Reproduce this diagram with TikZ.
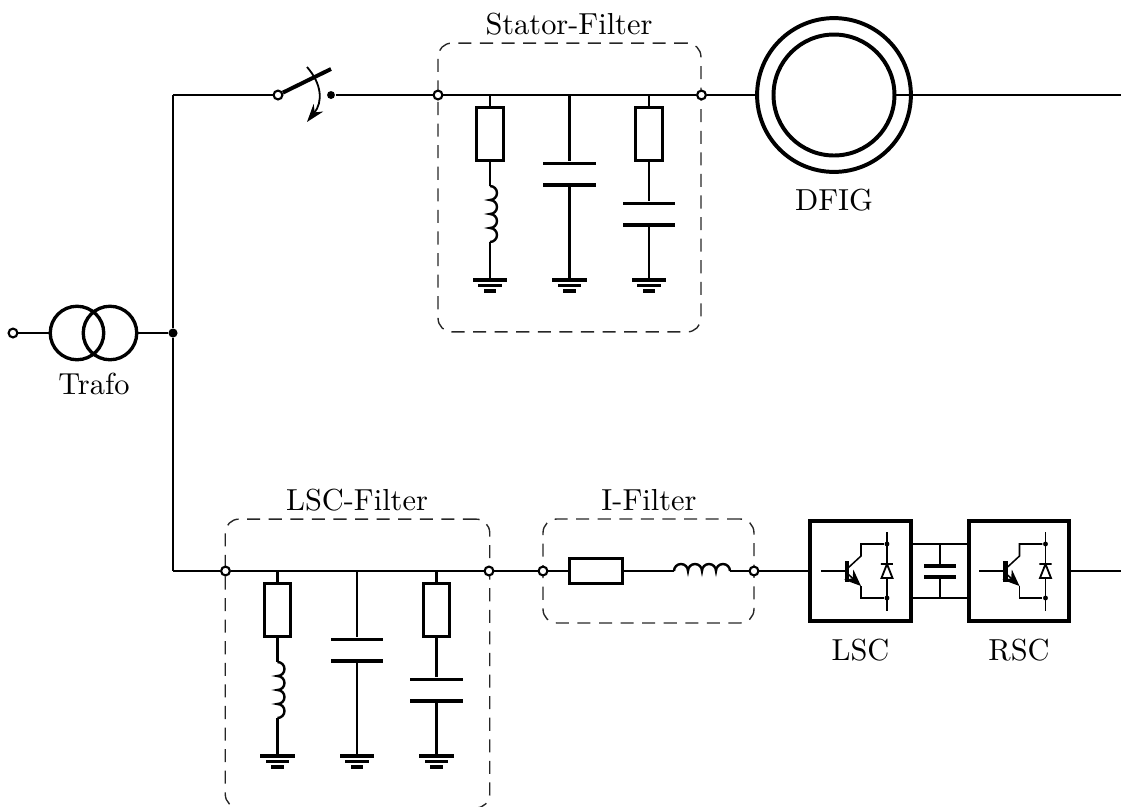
\documentclass[tikz,border=0pt]{standalone}
\usetikzlibrary{arrows.meta}

\tikzset{
	wire/.style={line width=0.8pt},
	thinwire/.style={line width=0.5pt},
	term/.style={circle,draw,fill=white,line width=0.7pt,inner sep=0pt,minimum size=2.9pt},
	dot/.style={circle,fill=black,inner sep=0pt,minimum size=3pt},
	smalldot/.style={circle,fill=black,inner sep=0pt,minimum size=1.6pt},
	resv/.style={rectangle,draw,line width=1pt,inner sep=0pt,minimum width=8.6pt,minimum height=17.4pt},
	resh/.style={rectangle,draw,line width=1pt,inner sep=0pt,minimum width=17.4pt,minimum height=8.2pt},
	plate/.style={rectangle,fill=black,inner sep=0pt,minimum width=17.2pt,minimum height=1pt},
	gnda/.style={rectangle,fill=black,inner sep=0pt,minimum width=11.2pt,minimum height=1pt},
	gndb/.style={rectangle,fill=black,inner sep=0pt,minimum width=7.8pt,minimum height=1pt},
	gndc/.style={rectangle,fill=black,inner sep=0pt,minimum width=4pt,minimum height=1pt},
	trafo/.style={circle,draw,line width=1.1pt,inner sep=0pt,minimum size=17.6pt},
	conv/.style={rectangle,draw,line width=1.4pt,inner sep=0pt,minimum size=33pt},
	filterbox/.style={rectangle,draw=black!85,dash pattern=on 4.3pt off 2.8pt,rounded corners=4.5pt,line width=0.45pt,inner sep=0pt},
}

\begin{document}
\begin{tikzpicture}[x=0.329pt,y=-0.329pt]
\useasboundingbox (0,0) rectangle (1121,807);

% boxes
\node (fs) at (569.5,187.5) [filterbox,minimum width=86.5pt,minimum height=95pt] {};
\node (fl) at (357.5,663.5) [filterbox,minimum width=87pt,minimum height=95pt] {};
\node (fi) at (648.5,571) [filterbox,minimum width=69.4pt,minimum height=34.2pt] {};

\node (lfs) at (569,24) {Stator-Filter};
\node (lfl) at (357,500) {LSC-Filter};
\node (lfi) at (649,500) {I-Filter};

% grid side
\node (t0) at (13,333) [term] {};
\node (tr1) at (77,333) [trafo] {};
\node (tr2) at (110,333) [trafo] {};
\node (ltr) at (94,384) {Trafo};
\node (j0) at (173,333) [dot] {};
\coordinate (c1) at (173,95);
\coordinate (c2) at (173,571);

\draw[wire] (t0) -- (tr1);
\draw[wire] (tr2) -- (j0);
\draw[wire] (j0) -- (c1);
\draw[wire] (j0) -- (c2);

% switch
\node (sw1) at (278,95) [term] {};
\node (sw2) at (331,95) [dot,minimum size=2.6pt] {};
\coordinate (sw3) at (331,69);
\coordinate (arc1) at (307,67);
\coordinate (arc2) at (307,122);
\draw[wire] (c1) -- (sw1);
\draw[line width=1.3pt] (sw1) -- (sw3);
\draw[line width=0.6pt,-{Stealth[length=6pt,width=4pt]}] (arc1) .. controls (322,84) and (323,102) .. (arc2);

% one filter with three branches, at two places
\foreach \f/\ox/\oy in {s/0/0,l/-212.5/476}
{
	\begin{scope}[shift={(\ox,\oy)}]
	\node (\f a) at (438,95) [term] {};
	\node (\f b) at (701.5,95) [term] {};
	\coordinate (\f t1) at (490,95);
	\coordinate (\f t2) at (569.5,95);
	\coordinate (\f t3) at (649,95);

	\node (\f r1) at (490,134) [resv] {};
	\coordinate (\f l1) at (490,186);
	\coordinate (\f l2) at (490,242);
	\node (\f ga1) at (490,280) [gnda] {};
	\node (\f gb1) at (490,285.5) [gndb] {};
	\node (\f gc1) at (490,291) [gndc] {};

	\node (\f pa2) at (569.5,163.5) [plate] {};
	\node (\f pb2) at (569.5,185) [plate] {};
	\node (\f ga2) at (569.5,280) [gnda] {};
	\node (\f gb2) at (569.5,285.5) [gndb] {};
	\node (\f gc2) at (569.5,291) [gndc] {};

	\node (\f r3) at (649,134) [resv] {};
	\node (\f pa3) at (649,203.5) [plate] {};
	\node (\f pb3) at (649,225) [plate] {};
	\node (\f ga3) at (649,280) [gnda] {};
	\node (\f gb3) at (649,285.5) [gndb] {};
	\node (\f gc3) at (649,291) [gndc] {};

	\draw[wire] (\f a) -- (\f b);
	\draw[wire] (\f t1) -- (\f r1);
	\draw[wire] (\f r1) -- (\f l1);
	\draw[wire] (\f l1) arc (-90:90:7) arc (-90:90:7) arc (-90:90:7) arc (-90:90:7);
	\draw[wire] (\f l2) -- (\f ga1);
	\draw[wire] (\f t2) -- (\f pa2);
	\draw[wire] (\f pb2) -- (\f ga2);
	\draw[wire] (\f t3) -- (\f r3);
	\draw[wire] (\f r3) -- (\f pa3);
	\draw[wire] (\f pb3) -- (\f ga3);
	\end{scope}
}

% I-Filter
\node (ia) at (543,571) [term] {};
\node (ib) at (754,571) [term] {};
\node (ir) at (596,571) [resh] {};
\coordinate (il1) at (674,571);
\coordinate (il2) at (730,571);
\draw[wire] (c2) -- (la);
\draw[wire] (lb) -- (ia);
\draw[wire] (ia) -- (ir);
\draw[wire] (ir) -- (il1);
\draw[wire] (il1) arc (180:360:7) arc (180:360:7) arc (180:360:7) arc (180:360:7);
\draw[wire] (il2) -- (ib);

% stator line and machine
\node (dfo) at (834,95) [circle,draw,line width=1.3pt,inner sep=0pt,minimum size=50.6pt] {};
\node (dfi) at (834,95) [circle,draw,line width=1.3pt,inner sep=0pt,minimum size=39.8pt] {};
\node (ldf) at (834,200) {DFIG};
\coordinate (e1) at (1121,95);
\draw[wire] (sw2) -- (sa);
\draw[wire] (sb) -- (dfo);
\draw[wire] (dfi) -- (e1);

% converters
\foreach \c/\ox/\txt in {lsc/0/LSC,rsc/158.5/RSC}
{
	\begin{scope}[shift={(\ox,0)}]
	\node (\c) at (860.5,571) [conv] {};
	\node (l\c) at (860.5,650) {\txt};
	\node (\c d1) at (887,544) [smalldot] {};
	\node (\c d2) at (887,598) [smalldot] {};
	\coordinate (\c v1) at (887,532);
	\coordinate (\c v2) at (887,611);
	\coordinate (\c b) at (821,571);
	\coordinate (\c q) at (847,571);
	\coordinate (\c g1) at (847,561);
	\coordinate (\c g2) at (847,582);
	\coordinate (\c k1) at (848,568);
	\coordinate (\c k2) at (861,556);
	\coordinate (\c k3) at (861,544);
	\coordinate (\c m1) at (848,574);
	\coordinate (\c m2) at (861,586);
	\coordinate (\c m3) at (861,598);
	\coordinate (\c da) at (887,564);
	\coordinate (\c db) at (887,578);

	\draw[thinwire] (\c v1) -- (\c da);
	\draw[thinwire] (\c db) -- (\c v2);
	\draw[thinwire] (\c b) -- (\c q);
	\draw[line width=1.4pt] (\c g1) -- (\c g2);
	\draw[thinwire] (\c k1) -- (\c k2) -- (\c k3) -- (\c d1);
	\draw[thinwire] (\c m2) -- (\c m3) -- (\c d2);
	\draw[thinwire,-{Stealth[length=5.5pt,width=4.5pt]}] (\c m1) -- (\c m2);
	\draw[line width=0.6pt] (881,564) -- (893,564) (887,564) -- (881.5,578) -- (892.5,578) -- cycle;
	\end{scope}
}

% dc link
\coordinate (dc1) at (940,544);
\coordinate (dc2) at (940,598);
\node (cpa) at (940,566) [plate,minimum width=10.4pt,minimum height=1.1pt] {};
\node (cpb) at (940,577) [plate,minimum width=10.4pt,minimum height=1.1pt] {};
\draw[wire] (lsc.east |- dc1) -- (rsc.west |- dc1);
\draw[wire] (lsc.east |- dc2) -- (rsc.west |- dc2);
\draw[wire] (dc1) -- (cpa);
\draw[wire] (dc2) -- (cpb);

\coordinate (e2) at (1121,571);
\draw[wire] (ib) -- (lsc);
\draw[wire] (rsc) -- (e2);

\end{tikzpicture}
\end{document}
